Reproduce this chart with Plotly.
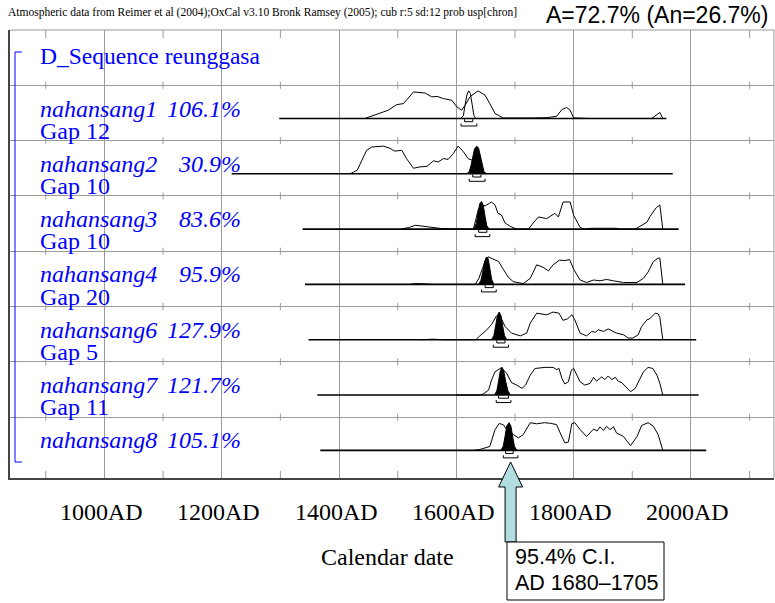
import plotly.graph_objects as go

# ---------------- data ----------------
names = ["nahansang1", "nahansang2", "nahansang3", "nahansang4",
         "nahansang6", "nahansang7", "nahansang8"]
agreements = ["106.1%", "30.9%", "83.6%", "95.9%", "127.9%", "121.7%", "105.1%"]
gaps = ["Gap 12", "Gap 10", "Gap 10", "Gap 20", "Gap 5", "Gap 11"]
tick_years = [1000, 1200, 1400, 1600, 1800, 2000]
tick_labels = ["1000AD", "1200AD", "1400AD", "1600AD", "1800AD", "2000AD"]
minor_years = [900, 1100, 1300, 1500, 1700, 1900, 2100]

baseline_ranges = [(1298, 1958), (1217, 1969), (1338, 1979), (1342, 1990),
                   (1348, 2009), (1363, 2013), (1368, 2026)]

like_years = [
    [1444, 1470, 1484, 1498, 1510, 1527, 1547, 1558, 1567, 1578, 1592, 1601, 1609, 1615, 1623, 1637,
     1649, 1657, 1666, 1680, 1700, 1730, 1755, 1771, 1780, 1788, 1794, 1800, 1830, 1933, 1947, 1952],
    [1419, 1431, 1439, 1447, 1456, 1476, 1487, 1495, 1507, 1515, 1527, 1538, 1550, 1561, 1569, 1578,
     1586, 1595, 1603, 1612, 1620, 1626, 1632, 1638, 1643, 1648, 1652],
    [1505, 1520, 1530, 1545, 1560, 1575, 1629, 1633, 1638, 1643, 1650, 1660, 1666, 1671, 1677, 1683,
     1692, 1703, 1723, 1731, 1740, 1754, 1760, 1768, 1774, 1782, 1794, 1800, 1811, 1818, 1830, 1850,
     1872, 1880, 1905, 1913, 1925, 1930, 1941, 1947, 1952],
    [1520, 1530, 1545, 1560, 1632, 1638, 1645, 1650, 1654, 1663, 1672, 1680, 1689, 1697, 1714, 1726,
     1737, 1748, 1757, 1765, 1771, 1776, 1785, 1793, 1800, 1811, 1822, 1834, 1845, 1856, 1868, 1885,
     1908, 1919, 1927, 1936, 1944, 1947, 1952],
    [1540, 1560, 1580, 1633, 1639, 1646, 1652, 1660, 1668, 1676, 1683, 1694, 1709, 1720, 1726, 1737,
     1754, 1765, 1775, 1782, 1790, 1797, 1802, 1811, 1822, 1831, 1837, 1842, 1851, 1859, 1865, 1873,
     1885, 1893, 1901, 1910, 1916, 1925, 1930, 1939, 1944, 1947, 1952],
    [1600, 1640, 1646, 1655, 1660, 1666, 1677, 1686, 1694, 1703, 1712, 1718, 1726, 1734, 1751, 1765,
     1771, 1775, 1780, 1785, 1791, 1796, 1800, 1804, 1811, 1819, 1828, 1834, 1839, 1848, 1853, 1859,
     1865, 1871, 1876, 1882, 1891, 1897, 1905, 1913, 1919, 1927, 1935, 1942, 1947, 1952],
    [1630, 1640, 1657, 1666, 1673, 1680, 1686, 1692, 1697, 1706, 1714, 1726, 1737, 1750, 1760, 1771,
     1777, 1785, 1791, 1797, 1802, 1811, 1822, 1834, 1840, 1845, 1851, 1856, 1862, 1868, 1873, 1885,
     1897, 1908, 1916, 1927, 1936, 1944, 1952],
]
like_probs = [
    [0, .18, .30, .50, .54, .96, .92, .78, .80, .72, .66, .42, .30, .48, .78, 1.0,
     .84, .54, .18, .02, .01, .02, .03, .08, .32, .40, .30, .02, 0, 0, .22, 0],
    [0, .13, .49, .85, .97, 1.0, .92, .82, .85, .55, .20, .25, .27, .47, .43, .55,
     .52, .74, 1.0, .80, .55, .49, .45, .35, .15, .04, 0],
    [0, .06, .14, .10, .06, .02, 0, .3, .75, .85, .85, .98, .87, .57, .51, .22,
     .10, 0, 0, .22, .44, .38, .46, .57, .44, .98, .98, .5, .06, 0, .03, .04,
     .03, 0, 0, .10, .25, .45, .78, .87, 0],
    [0, .03, .02, 0, 0, .2, .6, .9, 1.0, .92, .83, .55, .25, .10, .03, .22,
     .71, .62, .49, .71, .80, .88, .86, .90, .55, .16, .07, .16, .13, .18, .13, .07,
     .07, .22, .45, .83, .95, .95, 0],
    [0, .02, 0, 0, .12, .25, .36, .55, .85, .8, .48, .24, .14, .24, .6, .96,
     .9, 1.0, .96, .7, .76, .9, .72, .24, .14, .30, .27, .36, .30, .39, .33, .24,
     .18, .06, .06, .18, .48, .72, .76, .96, .94, .80, 0],
    [0, 0, .04, .18, .54, .84, .99, .78, .45, .36, .24, .36, .72, .96, 1.0, 1.0,
     .92, .96, .6, .4, .48, .9, .96, .78, .48, .36, .42, .64, .5, .66, .56, .69,
     .56, .64, .5, .45, .24, .12, .24, .6, .84, 1.0, .96, .72, .42, 0],
    [0, .03, .14, .75, .97, .93, .75, .7, .57, .45, .57, 1.0, .96, 1.0, .98, .93,
     .63, .27, .3, .97, 1.0, .75, .5, .77, .7, .85, .72, .87, .75, .85, .63, .5,
     .17, .5, .9, 1.0, .87, .57, 0],
]

post_years = [
    [1607, 1612, 1615, 1618, 1621, 1624, 1627, 1630, 1633],
    [1618, 1622, 1625, 1628, 1631, 1635, 1638, 1641, 1644, 1647, 1651],
    [1630, 1634, 1637, 1640, 1643, 1646, 1649, 1652, 1656],
    [1638, 1642, 1645, 1648, 1651, 1654, 1657, 1660, 1664],
    [1660, 1664, 1667, 1670, 1673, 1676, 1679, 1682, 1686],
    [1665, 1669, 1672, 1675, 1678, 1681, 1684, 1688, 1692],
    [1676, 1680, 1683, 1686, 1690, 1693, 1696, 1699, 1703],
]
post_probs = [
    [0, .1, .5, .85, 1.0, .9, .5, .1, 0],
    [0, .08, .3, .65, .9, 1.0, .92, .65, .3, .08, 0],
    [0, .2, .6, .92, 1.0, .85, .45, .12, 0],
    [0, .15, .45, .8, .98, .95, .6, .2, 0],
    [0, .15, .5, .88, 1.0, .88, .5, .15, 0],
    [0, .15, .5, .88, 1.0, .85, .5, .15, 0],
    [0, .15, .5, .88, 1.0, .88, .5, .15, 0],
]
post_filled = [False, True, True, True, True, True, True]

range68 = [(1614, 1628), (1628, 1642), (1638, 1652), (1649, 1663),
           (1669, 1683), (1672, 1689), (1684, 1697)]
range95 = [(1608, 1635), (1622, 1649), (1632, 1657), (1643, 1668),
           (1663, 1689), (1668, 1693), (1680, 1705)]

ci_label = "95.4% C.I."
ci_range = (1680, 1705)
header_text = ("Atmospheric data from Reimer et al (2004);OxCal v3.10 Bronk Ramsey (2005); "
               "cub r:5 sd:12 prob usp[chron]")
agreement_text = "A=72.7% (An=26.7%)"
sequence_name = "D_Sequence reunggasa"
x_title = "Calendar date"

# ---------------- layout constants ----------------
W, H = 775, 603
ML, MR, MT, MB = 10, 1, 30, 125
PW, PH = W - ML - MR, H - MT - MB
X0, X1 = 839.0, 2141.6
Y_TOP, Y_BOT = -0.6, 7.5
PEAK = 0.5            # height of a normalised peak in row units
GRID = "#9a9a9a"
BLUE = "#0000ff"
SERIF = "Liberation Serif, Times New Roman, serif"
SANS = "Liberation Sans, Arial, sans-serif"
YR_PER_PX = (X1 - X0) / PW
ROW_PER_PX = (Y_BOT - Y_TOP) / PH


def pxx(p):  # page pixel x -> paper
    return (p - ML) / PW


def pxy(p):  # page pixel y -> paper
    return (MT + PH - p) / PH


fig = go.Figure()

n_rows = len(names)
for i in range(n_rows):
    k = i + 1
    b0, b1 = baseline_ranges[i]
    fig.add_trace(go.Scatter(x=[b0, b1], y=[k, k], mode="lines",
                             line=dict(color="black", width=1.6), hoverinfo="skip"))
    fig.add_trace(go.Scatter(x=like_years[i], y=[k - PEAK * v for v in like_probs[i]],
                             mode="lines", line=dict(color="black", width=1), hoverinfo="skip"))
    fig.add_trace(go.Scatter(x=post_years[i], y=[k - PEAK * v for v in post_probs[i]],
                             mode="lines", line=dict(color="black", width=1),
                             fill="toself" if post_filled[i] else None,
                             fillcolor="black", hoverinfo="skip"))
    # range brackets
    bx, by = [], []
    for (lo, hi), off in ((range68[i], 3.2), (range95[i], 7.5)):
        yl = k + off * ROW_PER_PX
        ye = yl - 2.5 * ROW_PER_PX
        bx += [lo, lo, hi, hi, None]
        by += [ye, yl, yl, ye, None]
    fig.add_trace(go.Scatter(x=bx, y=by, mode="lines",
                             line=dict(color="black", width=1), hoverinfo="skip"))

# tick marks on grid lines and borders
tx, ty = [], []
for k in range(1, n_rows + 1):
    g = k - 0.6
    for yr in minor_years:
        tx += [yr, yr, None]
        ty += [g - 3.5 * ROW_PER_PX, g + 3.5 * ROW_PER_PX, None]
for yr in minor_years:
    tx += [yr, yr, None]
    ty += [Y_TOP, Y_TOP + 8 * ROW_PER_PX, None]
    tx += [yr, yr, None]
    ty += [Y_BOT, Y_BOT - 7 * ROW_PER_PX, None]
fig.add_trace(go.Scatter(x=tx, y=ty, mode="lines", line=dict(color=GRID, width=1),
                         hoverinfo="skip", cliponaxis=False))

ann = []
# header texts
ann.append(dict(x=pxx(6), y=pxy(13), xref="paper", yref="paper", text=header_text,
                showarrow=False, xanchor="left", yanchor="middle",
                font=dict(family=SERIF, size=11.5, color="black")))
ann.append(dict(x=pxx(770), y=pxy(15), xref="paper", yref="paper", text=agreement_text,
                showarrow=False, xanchor="right", yanchor="middle",
                font=dict(family=SANS, size=23, color="black")))
# sequence name
ann.append(dict(x=pxx(38), y=-0.137, xref="paper", yref="y", text=sequence_name,
                showarrow=False, xanchor="left", yanchor="middle",
                font=dict(family=SERIF, size=23.5, color=BLUE)))
for i in range(n_rows):
    k = i + 1
    ann.append(dict(x=pxx(38), y=k - 0.18, xref="paper", yref="y", text="<i>%s</i>" % names[i],
                    showarrow=False, xanchor="left", yanchor="middle",
                    font=dict(family=SERIF, size=24, color=BLUE)))
    ann.append(dict(x=pxx(243), y=k - 0.18, xref="paper", yref="y", text="<i>%s</i>" % agreements[i],
                    showarrow=False, xanchor="right", yanchor="middle",
                    font=dict(family=SERIF, size=24, color=BLUE)))
    if i < len(gaps):
        ann.append(dict(x=pxx(38), y=k + 0.22, xref="paper", yref="y", text=gaps[i],
                        showarrow=False, xanchor="left", yanchor="middle",
                        font=dict(family=SERIF, size=24, color=BLUE)))
# tick labels
for yr, lab in zip(tick_years, tick_labels):
    ann.append(dict(x=yr, y=pxy(512), xref="x", yref="paper", text=lab, showarrow=False,
                    xanchor="center", yanchor="middle", xshift=-3,
                    font=dict(family=SERIF, size=24, color="black")))
ann.append(dict(x=pxx(387), y=pxy(557), xref="paper", yref="paper", text=x_title,
                showarrow=False, xanchor="center", yanchor="middle",
                font=dict(family=SERIF, size=24, color="black")))
# CI box text
ann.append(dict(x=pxx(513), y=pxy(557), xref="paper", yref="paper", text=ci_label,
                showarrow=False, xanchor="left", yanchor="middle",
                font=dict(family=SANS, size=21.5, color="black")))
ann.append(dict(x=pxx(513), y=pxy(583), xref="paper", yref="paper",
                text="AD %d\u2013%d" % ci_range, showarrow=False, xanchor="left", yanchor="middle",
                font=dict(family=SANS, size=21.5, color="black")))

shapes = []
# top & right border
shapes.append(dict(type="line", xref="paper", yref="paper", x0=0, x1=1, y0=1, y1=1,
                   line=dict(color=GRID, width=1)))
shapes.append(dict(type="line", xref="paper", yref="paper", x0=1, x1=1, y0=0, y1=1,
                   line=dict(color=GRID, width=1)))
# blue sequence bracket
shapes.append(dict(type="path", xref="paper", yref="paper",
                   path="M %f %f L %f %f L %f %f L %f %f" % (pxx(22), pxy(52), pxx(15), pxy(52),
                                                             pxx(15), pxy(462), pxx(22), pxy(462)),
                   line=dict(color=BLUE, width=1)))
# arrow pointing at CI
cx = (ci_range[0] + ci_range[1]) / 2.0
hw, sw = 12 * YR_PER_PX, 5.5 * YR_PER_PX
pts = [(cx, pxy(462)), (cx + hw, pxy(487)), (cx + sw, pxy(487)), (cx + sw, pxy(542)),
       (cx - sw, pxy(542)), (cx - sw, pxy(487)), (cx - hw, pxy(487))]
path = "M " + " L ".join("%f %f" % p for p in pts) + " Z"
shapes.append(dict(type="path", xref="x", yref="paper", path=path,
                   fillcolor="#b2dde1", line=dict(color="black", width=1)))
# CI box
shapes.append(dict(type="rect", xref="paper", yref="paper", x0=pxx(507), x1=pxx(664),
                   y0=pxy(542), y1=pxy(600), fillcolor="white", line=dict(color="black", width=1)))

fig.update_layout(
    width=W, height=H, margin=dict(l=ML, r=MR, t=MT, b=MB),
    paper_bgcolor="white", plot_bgcolor="white", showlegend=False,
    xaxis=dict(range=[X0, X1], tickvals=tick_years, showgrid=True, gridcolor=GRID, gridwidth=1,
               showticklabels=False, ticks="", zeroline=False, showline=True,
               linecolor="#444", linewidth=1.5, fixedrange=True),
    yaxis=dict(range=[Y_BOT, Y_TOP], tickvals=[k - 0.6 for k in range(1, n_rows + 1)],
               showgrid=True, gridcolor=GRID, gridwidth=1, showticklabels=False, ticks="",
               zeroline=False, showline=True, linecolor="#444", linewidth=1.5, fixedrange=True),
    annotations=ann, shapes=shapes,
)

fig.write_html("out.html")
